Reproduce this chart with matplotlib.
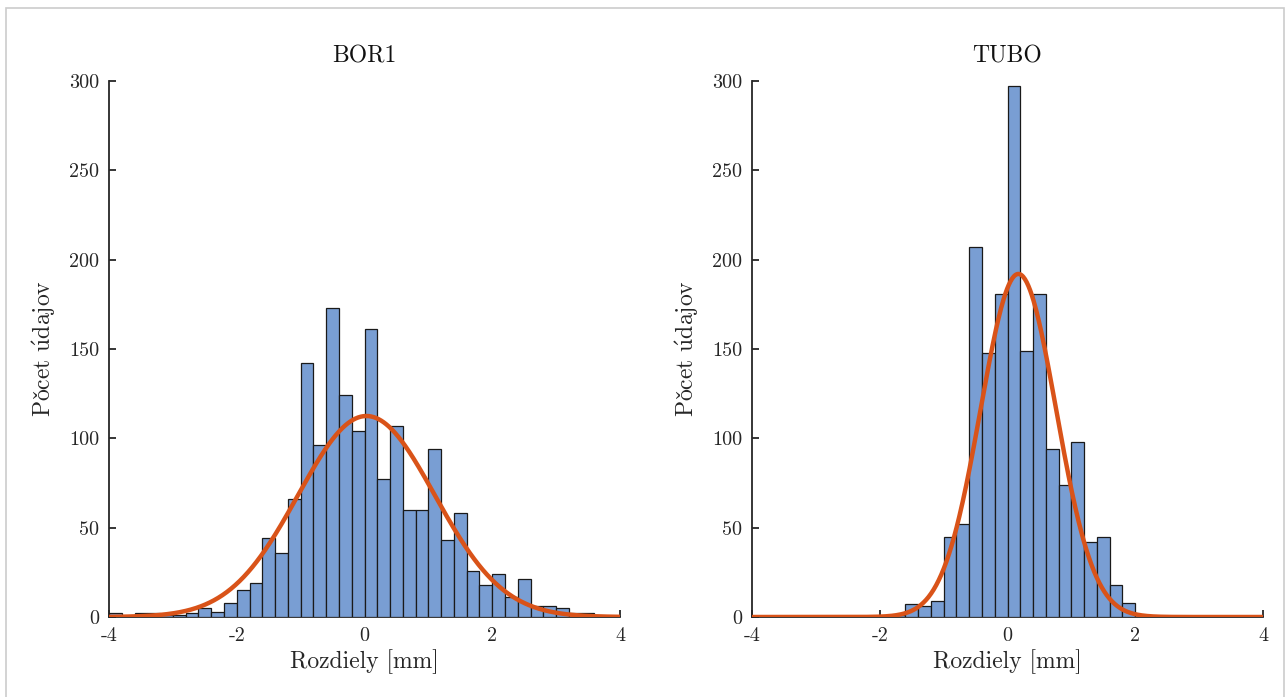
import numpy as np
import matplotlib
matplotlib.use("Agg")
import matplotlib.pyplot as plt
from matplotlib.patches import Rectangle

# ---------------- data ----------------
bin_start = -4.0
bin_width = 0.2

bor1_counts = [2, 0, 2, 2, 1, 1, 2, 5, 3, 8,
               15, 19, 44, 36, 66, 142, 96, 173, 124, 104,
               161, 77, 107, 60, 60, 94, 43, 58, 26, 18,
               24, 11, 21, 6, 6, 5, 2, 2, 0, 0]

tubo_counts = [0, 0, 0, 0, 0, 0, 0, 0, 0, 0,
               0, 1, 7, 6, 9, 45, 52, 207, 148, 181,
               297, 149, 181, 94, 74, 98, 42, 45, 18, 8,
               1, 0, 0, 0, 0, 0, 0, 0, 0, 0]

# normal fit parameters: (mean, sigma, peak count)
bor1_fit = (0.03, 1.07, 112.5)
tubo_fit = (0.17, 0.59, 192.0)

titles = ["BOR1", "TUBO"]
xlabel = "Rozdiely [mm]"
ylabel = r"Po$\check{\mathrm{c}}$et $\acute{\mathrm{u}}$dajov"
xticks = [-4, -2, 0, 2, 4]
yticks = [0, 50, 100, 150, 200, 250, 300]

# ---------------- style ----------------
plt.rcParams["font.family"] = "serif"
plt.rcParams["font.serif"] = ["cmr10"]
plt.rcParams["mathtext.fontset"] = "cm"
plt.rcParams["axes.unicode_minus"] = False

W, H = 1286, 697
fig = plt.figure(figsize=(W / 100, H / 100), dpi=100)
fig.patch.set_facecolor("white")

# light gray frame
fig.patches.append(Rectangle((6 / W, -0.01), (1284 - 6) / W, 1 - 8 / H + 0.01,
                             transform=fig.transFigure, fill=False,
                             edgecolor="#cccccc", linewidth=1.2))

bar_color = "#799ED3"
edge_color = "#1a1a1a"
fit_color = "#D95319"

ax_bottom = (H - 617) / H
ax_height = (617 - 81) / H
ax_width = 511 / W
lefts = [109 / W, 752 / W]

datasets = [(bor1_counts, bor1_fit), (tubo_counts, tubo_fit)]

for i, (counts, fit) in enumerate(datasets):
    ax = fig.add_axes([lefts[i], ax_bottom, ax_width, ax_height])
    counts = np.asarray(counts, dtype=float)
    edges = bin_start + bin_width * np.arange(len(counts))
    ax.bar(edges, counts, width=bin_width, align="edge",
           color=bar_color, edgecolor=edge_color, linewidth=0.9, zorder=2)
    mu, sigma, peak = fit
    xs = np.linspace(-4, 4, 600)
    ys = peak * np.exp(-(xs - mu) ** 2 / (2 * sigma ** 2))
    ax.plot(xs, ys, color=fit_color, linewidth=3.2, zorder=3,
            solid_capstyle="butt")

    ax.set_xlim(-4, 4)
    ax.set_ylim(0, 300)
    ax.set_xticks(xticks)
    ax.set_yticks(yticks)
    ax.set_xticklabels([str(t) for t in xticks])
    ax.set_yticklabels([str(t) for t in yticks])
    for s in ["top", "right"]:
        ax.spines[s].set_visible(False)
    for s in ["left", "bottom"]:
        ax.spines[s].set_linewidth(1.3)
        ax.spines[s].set_color("#262626")
        ax.spines[s].set_zorder(1)
    ax.tick_params(direction="in", length=5, width=1.3, colors="#262626",
                   labelsize=14.5, labelcolor="#262626", pad=7)
    ax.set_title(titles[i], fontsize=17, pad=13, color="#111111")
    ax.set_xlabel(xlabel, fontsize=17, labelpad=3, color="#262626")
    ax.set_ylabel(ylabel, fontsize=17, labelpad=8, color="#262626")
    ax.set_facecolor("white")

fig.savefig("out.png", dpi=100, facecolor="white")
